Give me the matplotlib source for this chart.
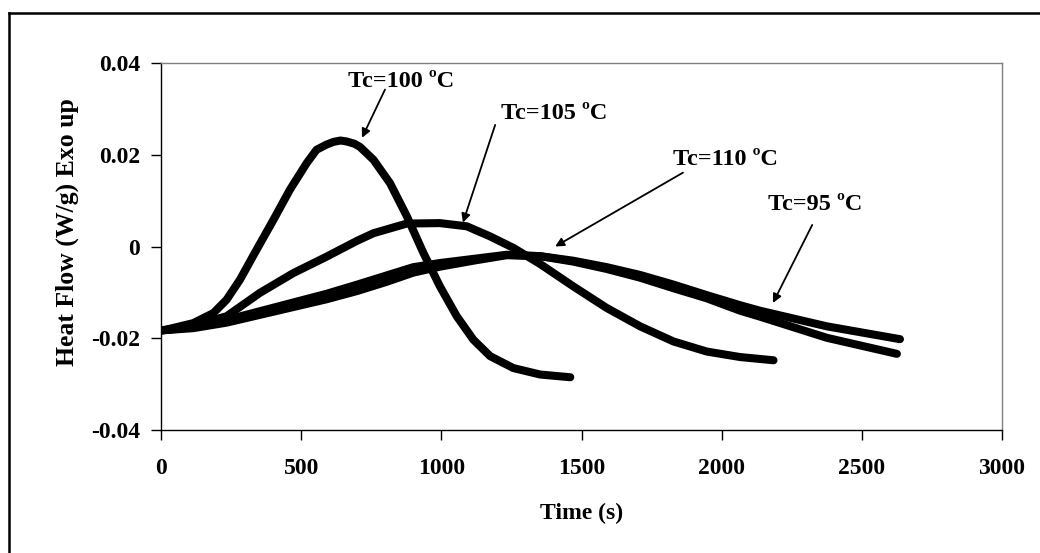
import matplotlib
matplotlib.use("Agg")
import matplotlib.pyplot as plt
from matplotlib.lines import Line2D

plt.rcParams['font.family'] = ['Liberation Serif', 'DejaVu Serif']
plt.rcParams['font.weight'] = 'bold'

# Data
t_100 = [0, 20, 115, 187, 234, 282, 341, 401, 460, 520, 555, 590, 615, 640, 662, 690, 710, 758, 817, 877, 936, 995, 1055, 1114, 1174, 1257, 1352, 1423, 1460]
hf_100 = [-0.0183, -0.0181, -0.0167, -0.0145, -0.0116, -0.0072, -0.0007, 0.0058, 0.0124, 0.0182, 0.0211, 0.0222, 0.0228, 0.0231, 0.0229, 0.0224, 0.0217, 0.0189, 0.0138, 0.0066, -0.0014, -0.0087, -0.0152, -0.0203, -0.0239, -0.0265, -0.0279, -0.0283, -0.0285]

t_105 = [0, 100, 234, 353, 472, 591, 698, 758, 877, 995, 1091, 1174, 1257, 1352, 1471, 1590, 1709, 1828, 1947, 2066, 2185]
hf_105 = [-0.0183, -0.0175, -0.0152, -0.0101, -0.0058, -0.0022, 0.0012, 0.0029, 0.0050, 0.0051, 0.0044, 0.0022, -0.0003, -0.0038, -0.0087, -0.0134, -0.0174, -0.0207, -0.0229, -0.0241, -0.0248]

t_110 = [0, 115, 234, 353, 472, 591, 700, 800, 900, 995, 1114, 1233, 1352, 1471, 1590, 1709, 1828, 1947, 2066, 2137, 2375, 2625]
hf_110 = [-0.0183, -0.0176, -0.0160, -0.0141, -0.0122, -0.0103, -0.0083, -0.0064, -0.0045, -0.0036, -0.0027, -0.0018, -0.0021, -0.0033, -0.0049, -0.0068, -0.0091, -0.0113, -0.0140, -0.0153, -0.0199, -0.0234]

t_95 = [0, 115, 234, 353, 472, 591, 700, 800, 900, 995, 1114, 1233, 1352, 1471, 1590, 1709, 1828, 1947, 2066, 2137, 2375, 2636]
hf_95 = [-0.0183, -0.0178, -0.0166, -0.0149, -0.0132, -0.0115, -0.0097, -0.0078, -0.0057, -0.0044, -0.0031, -0.0019, -0.0021, -0.0031, -0.0045, -0.0062, -0.0083, -0.0106, -0.0128, -0.0140, -0.0174, -0.0202]

x_ticks = [0, 500, 1000, 1500, 2000, 2500, 3000]
y_ticks = [-0.04, -0.02, 0, 0.02, 0.04]
y_tick_labels = ['-0.04', '-0.02', '0', '0.02', '0.04']

labels = ['Tc=100 ºC', 'Tc=105 ºC', 'Tc=110 ºC', 'Tc=95 ºC']
label_pos = [(856, 0.0359), (1402, 0.0291), (2012, 0.0189), (2333, 0.0091)]
arrow_tail = [(799, 0.0342), (1192, 0.0265), (1862, 0.0161), (2323, 0.0047)]
arrow_head = [(717, 0.0237), (1077, 0.0052), (1406, 0.0000), (2183, -0.0123)]

fig = plt.figure(figsize=(10.4, 5.53), dpi=100)
ax = fig.add_axes([161/1040, 1 - 430/553, (1002 - 161)/1040, (430 - 63)/553])

for t, h in [(t_110, hf_110), (t_95, hf_95), (t_105, hf_105), (t_100, hf_100)]:
    ax.plot(t, h, color='black', lw=5.8, solid_capstyle='round', solid_joinstyle='round')

ax.set_xlim(0, 3000)
ax.set_ylim(-0.04, 0.04)
ax.set_xticks(x_ticks)
ax.set_xticklabels([str(v) for v in x_ticks])
ax.set_yticks(y_ticks)
ax.set_yticklabels(y_tick_labels)
ax.tick_params(axis='both', direction='out', length=7, width=1, colors='black', labelsize=17)
ax.tick_params(axis='x', pad=13)
ax.tick_params(axis='y', pad=8)
for lab in ax.get_xticklabels() + ax.get_yticklabels():
    lab.set_fontweight('bold')

ax.spines['left'].set_color('black')
ax.spines['bottom'].set_color('black')
ax.spines['top'].set_color('#808080')
ax.spines['right'].set_color('#808080')
for s in ax.spines.values():
    s.set_linewidth(1)

ax.set_xlabel('Time (s)', fontsize=17, fontweight='bold')
ax.set_ylabel('Heat Flow (W/g) Exo up', fontsize=18.5, fontweight='bold')
ax.xaxis.label.set_va('center')
ax.yaxis.label.set_va('center')
ax.xaxis.set_label_coords(0.5, (430 - 513) / 367)
ax.yaxis.set_label_coords((67 - 161) / 841, (430 - 232) / 367)

for lab, pos, tail, head in zip(labels, label_pos, arrow_tail, arrow_head):
    ax.text(pos[0], pos[1], lab, ha='center', va='center', fontsize=17.5, fontweight='bold')
    ax.annotate('', xy=head, xytext=tail,
                arrowprops=dict(arrowstyle='-|>', color='black', lw=1.3, mutation_scale=13,
                                shrinkA=0, shrinkB=0))

# Outer frame (top and left visible, extends past image edges)
fig.add_artist(Line2D([9/1040, 9/1040], [0, 1 - 13/553], transform=fig.transFigure, color='black', lw=1.8))
fig.add_artist(Line2D([9/1040, 1.0], [1 - 13/553, 1 - 13/553], transform=fig.transFigure, color='black', lw=1.8))

fig.savefig('out.png', dpi=100)
